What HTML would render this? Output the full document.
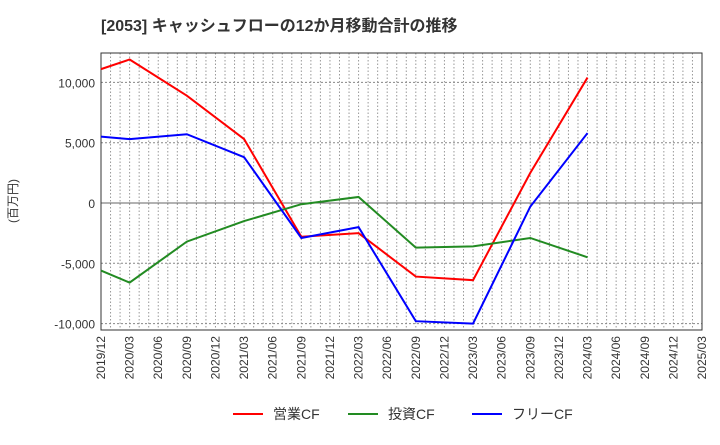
<!DOCTYPE html>
<html><head><meta charset="utf-8"><style>
body{margin:0;background:#fff;font-family:"Liberation Sans","Noto Sans CJK JP",sans-serif}
</style></head><body>
<svg id="chart" width="720" height="440" xmlns="http://www.w3.org/2000/svg" font-family="Liberation Sans, Noto Sans CJK JP, sans-serif">
<text x="101" y="31" font-size="16" font-weight="bold" fill="#333">[2053]  キャッシュフローの12か月移動合計の推移</text>
<text transform="translate(17,201) rotate(-90)" font-size="12" fill="#333" text-anchor="middle">(百万円)</text>
<g id="grid"></g><g id="axes"></g><g id="series"></g><g id="legend"></g>
</svg>
<script>
const xLabels=["2019/12","2020/03","2020/06","2020/09","2020/12","2021/03","2021/06","2021/09","2021/12","2022/03","2022/06","2022/09","2022/12","2023/03","2023/06","2023/09","2023/12","2024/03","2024/06","2024/09","2024/12","2025/03"];
const yTicks=[10000,5000,0,-5000,-10000];
const yTickLabels=["10,000","5,000","0","-5,000","-10,000"];
const seriesNames=["営業CF","投資CF","フリーCF"];
const seriesColors=["#ff0000","#228b22","#0000ff"];
const dataIdx=[0,1,3,5,7,9,11,13,15,17];
const opCF=[11100,11900,8900,5300,-2800,-2500,-6100,-6400,2500,10400];
const invCF=[-5600,-6600,-3200,-1500,-100,500,-3700,-3600,-2900,-4500];
const freeCF=[5500,5300,5700,3800,-2900,-2000,-9800,-10000,-300,5800];
const L=101,R=702,T=53,B=330;
const xs=i=>L+(R-L)*i/(xLabels.length-1);
const ys=v=>203-v*(60.3/5000);
const NS="http://www.w3.org/2000/svg";
function mk(tag,parent,attrs){const e=document.createElementNS(NS,tag);for(const k in attrs)e.setAttribute(k,attrs[k]);document.getElementById(parent).appendChild(e);return e;}
for(let m=1;m<(xLabels.length-1)*3;m++){const x=L+(R-L)*m/((xLabels.length-1)*3);
const g=mk("line","grid",{x1:x,x2:x,y1:T,y2:B,stroke:"#999","stroke-dasharray":"1.5,2","stroke-width":1});

}
yTicks.forEach((v,i)=>{const y=ys(v);
const g=mk("line","grid",{x1:L,x2:R,y1:y,y2:y,stroke:v===0?"#666":"#888","stroke-dasharray":v===0?"":"2,2","stroke-width":1});


const t=mk("text","axes",{x:L-6,y:y+5,"text-anchor":"end","font-size":"12",fill:"#333"});t.textContent=yTickLabels[i];

});
const frame=mk("rect","axes",{x:L,y:T,width:R-L,height:B-T,fill:"none",stroke:"#333","stroke-width":1});


xLabels.forEach((lab,i)=>{const x=xs(i);
const t=mk("text","axes",{x:0,y:0,"text-anchor":"end","font-size":"12",fill:"#333",transform:`translate(${x+4},${B+6}) rotate(-90)`});t.textContent=lab;

});
[opCF,invCF,freeCF].forEach((arr,s)=>{
const pts=arr.map((v,i)=>xs(dataIdx[i])+","+ys(v)).join(" ");
const p=mk("polyline","series",{points:pts,fill:"none",stroke:seriesColors[s],"stroke-width":2});

});
const lx=[233,348,472];
seriesNames.forEach((n,s)=>{
const l=mk("line","legend",{x1:lx[s],x2:lx[s]+30,y1:414,y2:414,stroke:seriesColors[s],"stroke-width":2});


const t=mk("text","legend",{x:lx[s]+40,y:419,"font-size":"14",fill:"#333"});t.textContent=n;

});
</script>
</body></html>
